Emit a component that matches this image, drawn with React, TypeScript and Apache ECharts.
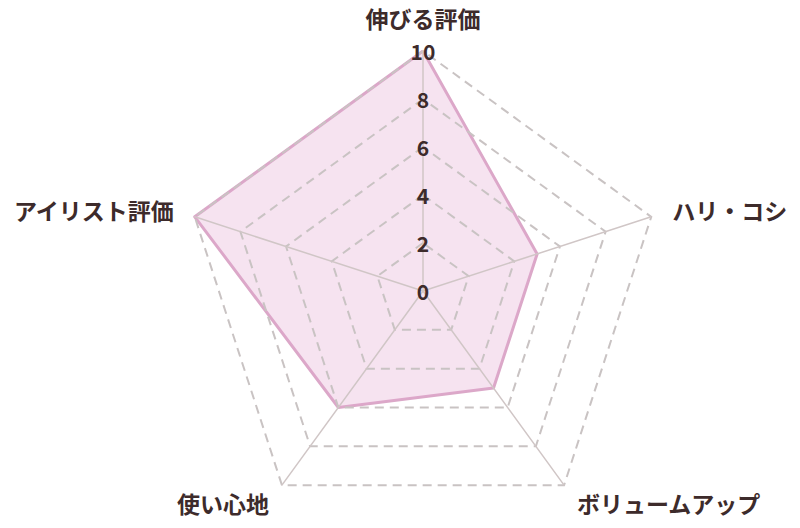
import { useEffect, useRef } from 'react';
import * as echarts from 'echarts';

// Indicator names, in ECharts order (counter-clockwise from the top)
const indicatorNames = ['伸びる評価', 'アイリスト評価', '使い心地', 'ボリュームアップ', 'ハリ・コシ'];
const indicatorMax = 10;
const scoreValues = [10, 10, 6, 5, 5];

const textColor = '#3d2b2b';
const fontFamily = '"Noto Sans CJK JP", "Noto Sans", sans-serif';

const App: React.FC = () => {
    const chartRef = useRef<HTMLDivElement>(null);

    useEffect(() => {
        if (!chartRef.current) return;
        const chart = echarts.init(chartRef.current, undefined, { renderer: 'svg' });

        chart.setOption({
            animation: false,
            backgroundColor: '#ffffff',
            radar: {
                z: 3,
                center: [423, 291],
                radius: 240,
                startAngle: 90,
                splitNumber: 5,
                shape: 'polygon',
                nameGap: 22,
                axisName: {
                    color: textColor,
                    fontSize: 23,
                    fontWeight: 'bold',
                    fontFamily
                },
                // only the top axis carries the tick labels (see indicator)
                axisLabel: { show: false },
                axisTick: { show: false },
                axisLine: { lineStyle: { color: '#d0c6c6', width: 1.5 } },
                splitLine: {
                    lineStyle: { color: '#c9c3c3', width: 2, type: [9, 6] }
                },
                splitArea: { show: false },
                indicator: indicatorNames.map((name, i) => ({
                    name,
                    min: 0,
                    max: indicatorMax,
                    ...(i === 0
                        ? {
                              axisLabel: {
                                  show: true,
                                  margin: 0,
                                  align: 'center',
                                  verticalAlign: 'middle',
                                  color: textColor,
                                  fontSize: 21,
                                  fontWeight: 'bold',
                                  fontFamily
                              }
                          }
                        : {})
                }))
            },
            series: [
                {
                    type: 'radar',
                    z: 1,
                    symbol: 'none',
                    lineStyle: { color: '#dba8c8', width: 3 },
                    areaStyle: { color: 'rgba(226, 166, 206, 0.45)' },
                    data: [{ value: scoreValues, name: '評価' }]
                }
            ]
        });

        return () => {
            chart.dispose();
        };
    }, []);

    return (
        <div
            ref={chartRef}
            style={{ position: 'absolute', left: 0, top: 0, width: '800px', height: '528px' }}
        />
    );
};

export default App;
